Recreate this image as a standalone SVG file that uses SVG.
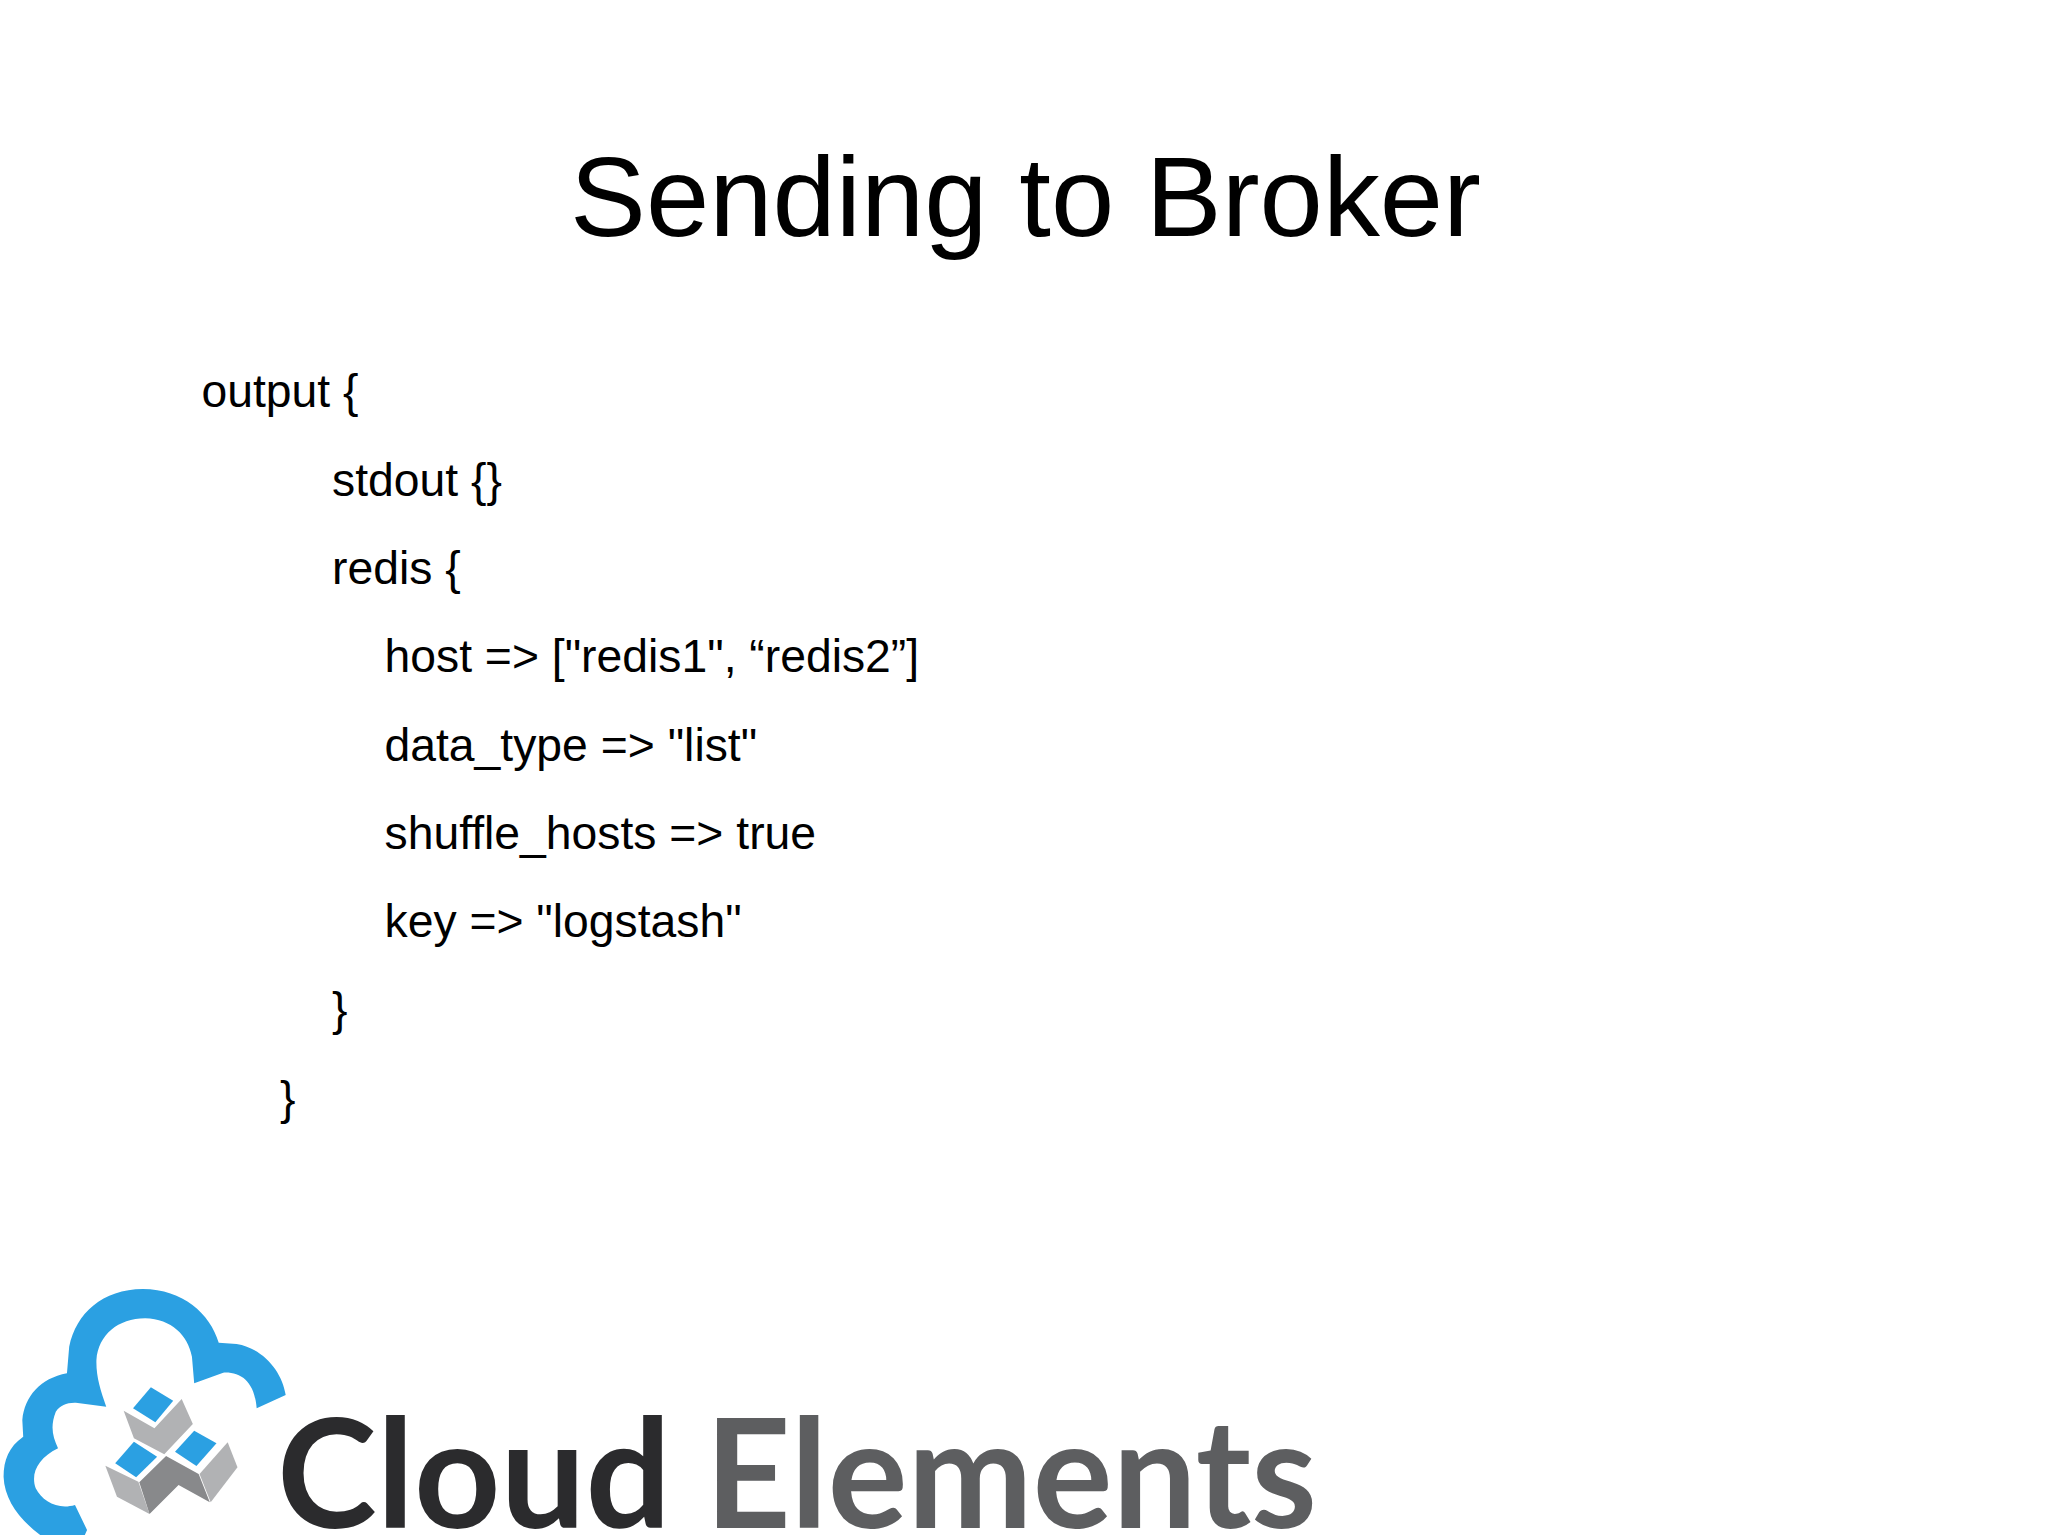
<svg xmlns="http://www.w3.org/2000/svg" width="2048" height="1535" viewBox="0 0 2048 1535">
<style>
text{font-family:"Liberation Sans",Arial,sans-serif;fill:#000}
.b{font-size:46.3px}
.w{font-family:Lato,"Liberation Sans",sans-serif;font-size:152px;font-weight:700;letter-spacing:0}
.blue{fill:#2ba0e2}.lg{fill:#b1b2b4}.dg{fill:#88898b}
</style>
<rect width="2048" height="1535" fill="#fff"/>
<g id="title"><text x="1025.5" y="236" font-size="113.8" text-anchor="middle">Sending to Broker</text></g>
<g id="code">
<text class="b" x="201.5" y="407">output {</text>
<text class="b" x="332" y="495.5">stdout {}</text>
<text class="b" x="332" y="584">redis {</text>
<text class="b" x="384.5" y="672">host =&gt; ["redis1", “redis2”]</text>
<text class="b" x="384.5" y="761">data_type =&gt; "list"</text>
<text class="b" x="384.5" y="849">shuffle_hosts =&gt; true</text>
<text class="b" x="384.5" y="937">key =&gt; "logstash"</text>
<text class="b" x="332" y="1025">}</text>
<text class="b" x="280" y="1114">}</text>
</g>
<g id="logo">
<g transform="translate(0 1270) scale(.4464 .3333)">
<path class="blue" d="M640 375C632 305 590 235 530 222L490 218C470 130 410 58 320 57C230 58 170 130 155 230L150 310C90 325 55 380 50 450L52 500C20 530 8 570 8 620C10 690 45 750 90 795L190 795L195 780L168 705C130 720 95 695 80 655C68 610 85 565 130 535C118 500 112 470 125 425C135 405 150 397 170 398L238 410C225 360 215 320 216 270C220 195 265 145 325 145C385 148 420 195 430 260L435 340L500 308C540 305 570 335 575 415Z"/>
<polygon class="blue" points="338,352 388,392 348,457 298,415"/>
<polygon class="blue" points="300,515 352,560 305,622 258,580"/>
<polygon class="blue" points="435,482 485,520 440,588 392,545"/>
<polygon class="lg" points="277,422 346,475 407,387 432,462 368,553 300,505"/>
<polygon class="lg" points="236,587 310,635 335,732 262,680"/>
<polygon class="lg" points="510,517 532,592 472,697 447,612"/>
<polygon class="dg" points="372,558 445,612 470,697 400,645 335,732 312,637"/>
</g>
<text class="w" x="277" y="1528" textLength="394" lengthAdjust="spacingAndGlyphs" style="fill:#2b2b2d">Cloud</text>
<text class="w" x="705" y="1528" textLength="612" lengthAdjust="spacingAndGlyphs" style="fill:#5d5e60">Elements</text>
</g>
</svg>
